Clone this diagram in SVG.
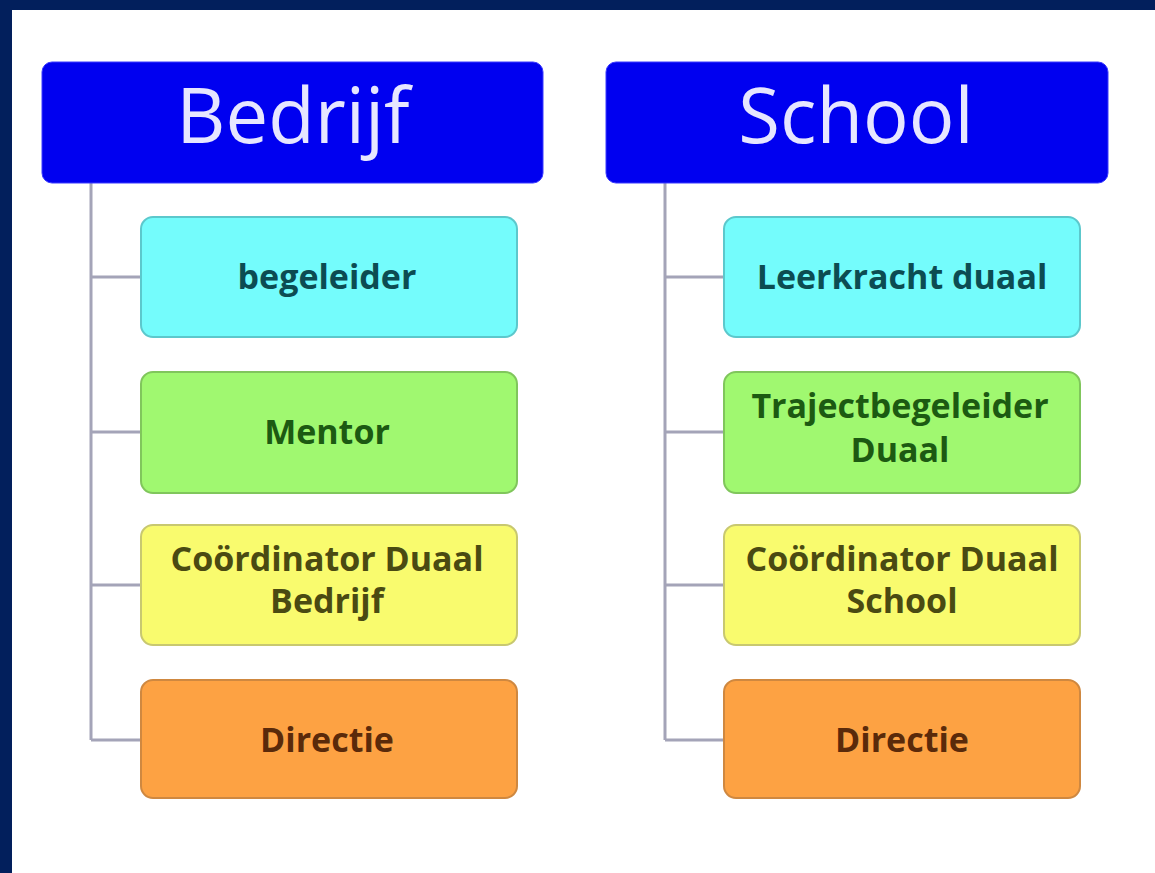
<svg xmlns="http://www.w3.org/2000/svg" width="1155" height="873" viewBox="0 0 1155 873">
<style>
.hdr{fill:#0000f0;stroke:#3a3aff;stroke-width:1}
.htxt{font-family:"Open Sans","DejaVu Sans",sans-serif;font-size:76px;fill:#e6e6ff;text-anchor:middle}
.t{font-family:"Open Sans","DejaVu Sans",sans-serif;font-weight:700;font-size:34px;text-anchor:middle}
.cy{fill:#74fcfc;stroke:#5cc8cc;stroke-width:2}
.gr{fill:#a0f870;stroke:#80c65c;stroke-width:2}
.ye{fill:#f9fb6e;stroke:#c8c870;stroke-width:2}
.or{fill:#fda243;stroke:#cf8840;stroke-width:2}
.tcy{fill:#0c4c52}
.tgr{fill:#1c5a12}
.tye{fill:#4a4a12}
.tor{fill:#5a2a0a}
.ln{stroke:#a4a4b8;stroke-width:3;fill:none}
</style>
<rect x="0" y="0" width="1155" height="873" fill="#ffffff"/>
<rect x="0" y="0" width="1155" height="10" fill="#021f5c"/>
<rect x="0" y="0" width="12" height="873" fill="#021f5c"/>
<g id="connectors">
<path class="ln" d="M91 183 V740 M91 277 H141 M91 432 H141 M91 585 H141 M91 740 H141"/>
<path class="ln" d="M665 183 V740 M665 277 H724 M665 432 H724 M665 585 H724 M665 740 H724"/>
</g>
<g id="bedrijf"><rect class="hdr" x="42" y="62" width="501" height="121" rx="10"/><text class="htxt" x="293" y="143">Bedrijf</text></g>
<g id="school"><rect class="hdr" x="606" y="62" width="502" height="121" rx="10"/><text class="htxt" x="856" y="143">School</text></g>
<g id="b-begeleider"><rect class="cy" x="141" y="217" width="376" height="120" rx="12"/><text class="t tcy" x="327" y="289">begeleider</text></g>
<g id="b-mentor"><rect class="gr" x="141" y="372" width="376" height="121" rx="12"/><text class="t tgr" x="327" y="444">Mentor</text></g>
<g id="b-coord"><rect class="ye" x="141" y="525" width="376" height="120" rx="12"/><text class="t tye" x="327" y="571">Coördinator Duaal</text><text class="t tye" x="327" y="613">Bedrijf</text></g>
<g id="b-directie"><rect class="or" x="141" y="680" width="376" height="118" rx="12"/><text class="t tor" x="327" y="752">Directie</text></g>
<g id="s-leerkracht"><rect class="cy" x="724" y="217" width="356" height="120" rx="12"/><text class="t tcy" x="902" y="289">Leerkracht duaal</text></g>
<g id="s-traject"><rect class="gr" x="724" y="372" width="356" height="121" rx="12"/><text class="t tgr" x="900" y="418">Trajectbegeleider</text><text class="t tgr" x="900" y="462">Duaal</text></g>
<g id="s-coord"><rect class="ye" x="724" y="525" width="356" height="120" rx="12"/><text class="t tye" x="902" y="571">Coördinator Duaal</text><text class="t tye" x="902" y="613">School</text></g>
<g id="s-directie"><rect class="or" x="724" y="680" width="356" height="118" rx="12"/><text class="t tor" x="902" y="752">Directie</text></g>
</svg>
